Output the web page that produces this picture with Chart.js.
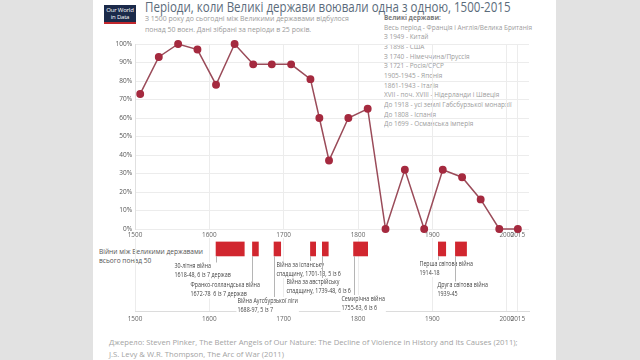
<!DOCTYPE html>
<html><head><meta charset="utf-8">
<script src="https://cdn.jsdelivr.net/npm/chart.js@4.4.0/dist/chart.umd.min.js"></script>
<style>
html,body{margin:0;padding:0;width:640px;height:360px;background:#e2e2e2;overflow:hidden;font-family:"Open Sans",sans-serif;}
#panel{position:absolute;left:93px;top:0;width:463px;height:360px;background:#fff;}
.abs{position:absolute;white-space:nowrap;transform-origin:0 0;}
#logo{left:104px;top:5px;width:32px;height:19px;background:#1b2a4a;border-bottom:2px solid #c1272d;color:#fff;font-size:6px;line-height:6.5px;text-align:center;padding-top:2px;box-sizing:border-box;letter-spacing:-0.2px}
#title{left:145px;top:-3px;font-size:14px;color:#5b6b7b;transform:scaleX(0.825);}
#sub{left:145px;top:13px;font-size:7.3px;line-height:10.5px;color:#9a9a9a;transform:scaleX(0.95);}
#legend{left:384px;top:13px;font-size:7.7px;line-height:9.65px;color:#9c9c9c;transform:scaleX(0.84);}
#legend b{color:#7a7a7a;}
#leftlab{left:99px;top:247px;font-size:6.6px;line-height:9px;color:#555;}
#source{left:109px;top:337px;font-size:7.7px;line-height:11.8px;color:#a3a3a3;}
canvas{position:absolute;left:0;}
</style></head>
<body>
<div id="panel"></div>
<div id="logo" class="abs">Our World<br>in Data</div>
<div id="title" class="abs">Періоди, коли Великі держави воювали одна з одною, 1500-2015</div>
<div id="sub" class="abs">З 1500 року до сьогодні між Великими державами відбулося<br>понад 50 воєн. Дані зібрані за періоди в 25 років.</div>
<div id="legend" class="abs"></div>
<div id="leftlab" class="abs">Війни між Великими державами<br>всього понад 50</div>
<div id="source" class="abs">Джерело: Steven Pinker, The Better Angels of Our Nature: The Decline of Violence in History and Its Causes (2011);<br>J.S. Levy &amp; W.R. Thompson, The Arc of War (2011)</div>
<canvas id="top" width="640" height="245" style="top:0;width:640px;height:245px"></canvas>
<canvas id="bot" width="640" height="95" style="top:237px;width:640px;height:95px"></canvas>
<script>
// ---- data ----
const periodYears = [1507,1532,1558,1584,1609,1634,1659,1684,1710,1736,1748,1761,1787,1813,1837,1863,1889,1914,1940,1965,1990,2015];
const warPercent  = [73,93,100,97,78,100,89,89,89,81,60,37,60,65,0,32,0,32,28,16,0,0];
const yearTicks = [1500,1600,1700,1800,1900,2000,2015];
const percentTicks = [0,10,20,30,40,50,60,70,80,90,100];
const legendTitle = 'Великі держави:';
const legendLines = ['Весь період - Франція і Англія/Велика Британія','З 1949 - Китай','З 1898 - США','З 1740 - Німеччина/Пруссія','З 1721 - Росія/СРСР','1905-1945 - Японія','1861-1943 - Італія','XVII - поч. XVIII - Нідерланди і Швеція','До 1918 - усі землі Габсбурзької монархії','До 1808 - Іспанія','До 1699 - Османська імперія'];
const warNames = ['30-літня війна','Франко-голландська війна','Війна Аугсбурзької ліги','Війна за іспанську','Війна за австрійську','Семирічна війна','Перша світова війна','Друга світова війна'];
const warDetails = ['1618-48, 6 із 7 держав','1672-78  6 із 7 держав','1688-97, 5 із 7','спадщину, 1701-13, 5 із 6','спадщину, 1739-48, 6 із 6','1755-63, 6 із 6','1914-18','1939-45'];
const warStart = [1609,1658,1687,1736,1752,1794,1908,1931];
const warEnd   = [1647,1666,1696,1743,1760,1813,1918,1946];

// ---- layout (not data) ----
const labelDx = [-42,-62,-37,-34,-36,-13,-19,-18];
const labelY  = [266.5,285.5,301,265,282,299,264,285.5]; // page y of first text line centre

document.getElementById('legend').innerHTML = '<b>'+legendTitle+'</b><br>'+legendLines.join('<br>');

const FONT = '"Open Sans", sans-serif';
const setTicks = (s) => { s.ticks = yearTicks.map(v => ({value:v})); };

new Chart(document.getElementById('top'), {
  type:'line',
  data:{datasets:[{
    data: periodYears.map((y,i)=>({x:y, y:warPercent[i]})),
    borderColor:'#9a4b59', borderWidth:1.5,
    pointBackgroundColor:'#a52a3f', pointBorderColor:'#a52a3f',
    pointRadius:3.2, pointHoverRadius:3.2, tension:0, clip:false
  }]},
  options:{
    responsive:false, animation:false, devicePixelRatio:1,
    layout:{padding:{left:100,right:111,top:44,bottom:0}},
    plugins:{legend:{display:false},tooltip:{enabled:false}},
    scales:{
      x:{type:'linear',min:1500,max:2030,
        afterBuildTicks:setTicks,
        afterFit:(s)=>{s.height=16;},
        grid:{color:'#ececec',drawTicks:false},
        border:{display:false},
        ticks:{padding:2,font:{family:FONT,size:6.4},color:'#666',callback:v=>String(v),autoSkip:false,maxRotation:0}},
      y:{min:0,max:100,
        afterBuildTicks:(s)=>{s.ticks=percentTicks.map(v=>({value:v}));},
        afterFit:(s)=>{s.width=35;},
        grid:{color:'#ececec',drawTicks:false},
        border:{display:true,color:'#e0e0e0'},
        ticks:{padding:3,font:{family:FONT,size:6.5},color:'#555',callback:v=>v+'%'}}
    }
  }
});

const warLabels = {
  id:'warLabels',
  afterDatasetsDraw(chart){
    const ctx = chart.ctx, xs = chart.scales.x, ys = chart.scales.y;
    const top = chart.canvas.offsetTop;
    const sx = 0.82;
    ctx.save();
    ctx.font = '6.5px ' + FONT;
    ctx.textBaseline = 'middle';
    warStart.forEach((s,i)=>{
      const lx = Math.round(xs.getPixelForValue(s)) + 0.5;
      const barBottom = ys.getPixelForValue(0.75) + 7;
      const ty = labelY[i] - top;
      ctx.strokeStyle = '#b5b5b5'; ctx.lineWidth = 1;
      ctx.beginPath(); ctx.moveTo(lx, barBottom); ctx.lineTo(lx, ty - 2); ctx.stroke();
      const tx = lx + labelDx[i];
      const w = sx * Math.max(ctx.measureText(warNames[i]).width, ctx.measureText(warDetails[i]).width);
      ctx.fillStyle = '#fff';
      ctx.fillRect(tx-1, ty-4, w+2, 17);
      ctx.fillStyle = '#444';
      ctx.save();
      ctx.translate(tx, ty);
      ctx.scale(sx, 1);
      ctx.fillText(warNames[i], 0, 0);
      ctx.fillText(warDetails[i], 0, 9);
      ctx.restore();
    });
    ctx.restore();
  }
};

new Chart(document.getElementById('bot'), {
  type:'bar',
  data:{datasets:[{
    data: warStart.map((s,i)=>({x:[s,warEnd[i]], y:0.75})),
    backgroundColor:'#d1262f', borderWidth:0, barThickness:14
  }]},
  options:{
    indexAxis:'y', responsive:false, animation:false, devicePixelRatio:1,
    layout:{padding:{left:135,right:111,top:1,bottom:0}},
    plugins:{legend:{display:false},tooltip:{enabled:false}},
    scales:{
      x:{type:'linear',min:1500,max:2030,offset:false,
        afterBuildTicks:setTicks,
        afterFit:(s)=>{s.height=21;},
        grid:{color:'#ececec',drawTicks:false,offset:false},
        border:{display:true,color:'#dcdcdc'},
        ticks:{padding:4,font:{family:FONT,size:6.4},color:'#666',callback:v=>String(v),autoSkip:false,maxRotation:0}},
      y:{type:'linear',min:0,max:5,reverse:true,display:false,offset:false}
    }
  },
  plugins:[warLabels]
});
</script>
</body></html>
